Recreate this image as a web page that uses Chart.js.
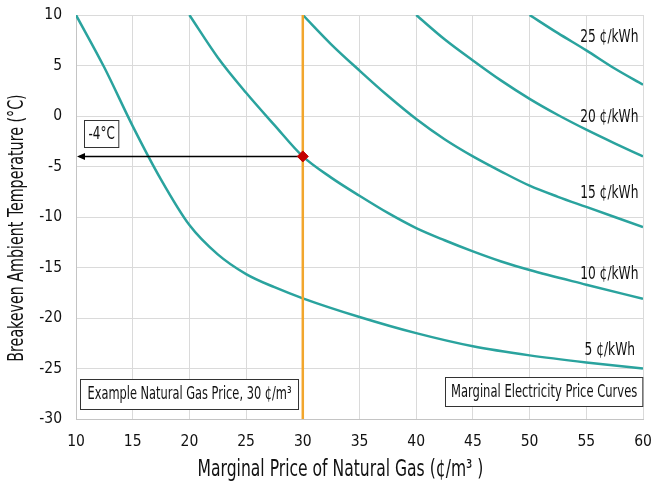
<!DOCTYPE html>
<html>
<head>
<meta charset="utf-8">
<script src="https://cdn.jsdelivr.net/npm/chart.js@4.4.1/dist/chart.umd.min.js"></script>
<style>
html,body{margin:0;padding:0;background:#fff;}
#wrap{width:652px;height:487px;}
</style>
</head>
<body>
<div id="wrap"><canvas id="c" width="652" height="487"></canvas></div>
<script>
// ---- data ----
const gas5  = [10, 12.5, 15, 17.5, 20, 22.5, 25, 27.5, 30, 35, 40, 45, 50, 55, 60];
const temp5 = [10, 4.8, -1.0, -6.3, -10.8, -13.7, -15.65, -16.95, -18.05, -19.9, -21.5, -22.8, -23.7, -24.4, -25.0];

const gas10  = [20, 22.5, 25, 27.5, 30, 32.5, 35, 37.5, 40, 42.5, 45, 47.5, 50, 55, 60];
const temp10 = [10, 5.8, 2.3, -0.9, -4.0, -6.1, -7.9, -9.6, -11.1, -12.3, -13.4, -14.4, -15.25, -16.7, -18.1];

const gas15  = [30, 32.5, 35, 37.5, 40, 42.5, 45, 47.5, 50, 52.5, 55, 57.5, 60];
const temp15 = [10, 7.1, 4.5, 2.0, -0.3, -2.3, -4.0, -5.5, -6.9, -8.0, -9.0, -10.0, -11.0];

const gas20  = [40, 42.5, 45, 47.5, 50, 52.5, 55, 57.5, 60];
const temp20 = [10, 7.6, 5.5, 3.5, 1.7, 0.1, -1.35, -2.7, -4.0];

const gas25  = [50, 52.5, 55, 57.5, 60];
const temp25 = [10, 8.2, 6.5, 4.7, 3.1];

const curveNames  = ['5 ¢/kWh', '10 ¢/kWh', '15 ¢/kWh', '20 ¢/kWh', '25 ¢/kWh'];
const curveLabelX = [59.3, 59.6, 59.6, 59.6, 59.6];
const curveLabelY = [-23.2, -15.75, -7.7, -0.2, 7.8];

const exampleGasPrice = 30;     // ¢/m³
const breakevenTemp   = -4;     // °C

const xTicks = {min: 10, max: 60, step: 5};
const yTicks = {min: -30, max: 10, step: 5};

const xTitle = 'Marginal Price of Natural Gas (¢/m³ )';
const yTitle = 'Breakeven Ambient Temperature (°C)';
const tempLabel = '-4°C';
const gasBoxText = 'Example Natural Gas Price, 30 ¢/m³';
const curvesBoxText = 'Marginal Electricity Price Curves';

// ---- styling ----
const FONT = "'Liberation Sans Narrow', 'DejaVu Sans Condensed', 'Roboto Condensed', sans-serif";
const TEAL = '#2aa39e';
const ORANGE = '#f2a62c';
const TEXT = '#111';
const SQUEEZE = 0.77;

const pts = (xs, ys) => xs.map((v, i) => ({x: v, y: ys[i]}));
const curveSets = [[gas5,temp5],[gas10,temp10],[gas15,temp15],[gas20,temp20],[gas25,temp25]];

const datasets = curveSets.map(([xs, ys]) => ({
  data: pts(xs, ys),
  borderColor: TEAL,
  borderWidth: 2.5,
  pointRadius: 0,
  cubicInterpolationMode: 'monotone',
  fill: false,
  order: 5
}));

datasets.push({
  data: [{x: exampleGasPrice, y: yTicks.min}, {x: exampleGasPrice, y: yTicks.max}],
  borderColor: ORANGE, borderWidth: 2.5, pointRadius: 0, order: 3
});
datasets.push({
  data: [{x: exampleGasPrice, y: breakevenTemp}, {x: xTicks.min + 0.3, y: breakevenTemp}],
  borderColor: '#000', borderWidth: 1.5, pointRadius: 0, order: 2
});
datasets.push({
  data: [{x: exampleGasPrice, y: breakevenTemp}],
  showLine: false,
  pointStyle: 'rectRot', pointRadius: 5.5,
  backgroundColor: '#c40000', borderColor: '#c40000', borderWidth: 1,
  order: 1
});

// draw horizontally condensed text
function squeezedText(ctx, text, x, y, align, size, factor, rot) {
  ctx.save();
  ctx.font = `${size}px ${FONT}`;
  ctx.translate(x, y);
  if (rot) ctx.rotate(rot);
  ctx.scale(factor, 1);
  ctx.textAlign = align;
  ctx.textBaseline = 'middle';
  ctx.fillStyle = TEXT;
  ctx.fillText(text, 0, 0);
  ctx.restore();
}
function textW(ctx, text, size, factor) {
  ctx.save();
  ctx.font = `${size}px ${FONT}`;
  const w = ctx.measureText(text).width * factor;
  ctx.restore();
  return w;
}
function drawBox(ctx, text, px, cy, anchor, padX, h, size, factor) {
  const tw = textW(ctx, text, size, factor);
  const w = tw + padX * 2;
  let left = anchor === 'left' ? px : px - w;
  left = Math.round(left) + 0.5;
  const top = Math.round(cy - h / 2) + 0.5;
  ctx.save();
  ctx.fillStyle = '#fff';
  ctx.fillRect(left, top, w, h);
  ctx.strokeStyle = '#333';
  ctx.lineWidth = 1;
  ctx.strokeRect(left, top, w, h);
  ctx.restore();
  squeezedText(ctx, text, left + padX, top + h / 2 + 0.5, 'left', size, factor);
}

const annot = {
  id: 'annot',
  afterDatasetsDraw(chart) {
    const {ctx, scales: {x, y}} = chart;
    ctx.save();
    // arrowhead
    const tipX = x.getPixelForValue(xTicks.min) + 1;
    const ay = y.getPixelForValue(breakevenTemp);
    ctx.fillStyle = '#000';
    ctx.beginPath();
    ctx.moveTo(tipX, ay);
    ctx.lineTo(tipX + 8, ay - 3.5);
    ctx.lineTo(tipX + 8, ay + 3.5);
    ctx.closePath();
    ctx.fill();
    ctx.restore();

    // curve labels
    curveNames.forEach((t, i) => {
      squeezedText(ctx, t, x.getPixelForValue(curveLabelX[i]), y.getPixelForValue(curveLabelY[i]), 'right', 17, 0.8);
    });

    // boxes
    drawBox(ctx, tempLabel, x.getPixelForValue(10.7), y.getPixelForValue(-1.78), 'left', 4, 27, 18.5, 0.72);
    drawBox(ctx, gasBoxText, x.getPixelForValue(10.35), y.getPixelForValue(-27.5), 'left', 7, 30, 16.8, 0.755);
    drawBox(ctx, curvesBoxText, x.getPixelForValue(59.9), y.getPixelForValue(-27.3), 'right', 5.5, 29, 16.8, 0.765);

    // axis titles
    const area = chart.chartArea;
    squeezedText(ctx, yTitle, 18, (area.top + area.bottom) / 2 + 11, 'center', 21, SQUEEZE * 0.98, -Math.PI / 2);
    squeezedText(ctx, xTitle, (area.left + area.right) / 2 - 19, 470, 'center', 22.5, SQUEEZE);
  }
};

new Chart(document.getElementById('c'), {
  type: 'line',
  data: {datasets},
  plugins: [annot],
  options: {
    responsive: false,
    animation: false,
    devicePixelRatio: 1,
    layout: {padding: {left: 0, top: 15, right: 9, bottom: 0}},
    plugins: {legend: {display: false}, tooltip: {enabled: false}},
    scales: {
      x: {
        type: 'linear',
        min: xTicks.min, max: xTicks.max,
        ticks: {stepSize: xTicks.step, color: TEXT, font: {family: FONT, size: 15.5}, padding: 14, maxRotation: 0},
        grid: {color: '#dadada', lineWidth: 1, drawTicks: false},
        border: {color: '#c4c4c4', width: 1},
        afterFit(s) { s.height = 68; s.paddingLeft = 0; s.paddingRight = 0; }
      },
      y: {
        type: 'linear',
        min: yTicks.min, max: yTicks.max,
        ticks: {stepSize: yTicks.step, color: TEXT, font: {family: FONT, size: 15.5}, padding: 14},
        grid: {color: '#dadada', lineWidth: 1, drawTicks: false},
        border: {color: '#c4c4c4', width: 1},
        afterFit(s) { s.width = 76; s.paddingTop = 0; s.paddingBottom = 0; }
      }
    }
  }
});
</script>
</body>
</html>
